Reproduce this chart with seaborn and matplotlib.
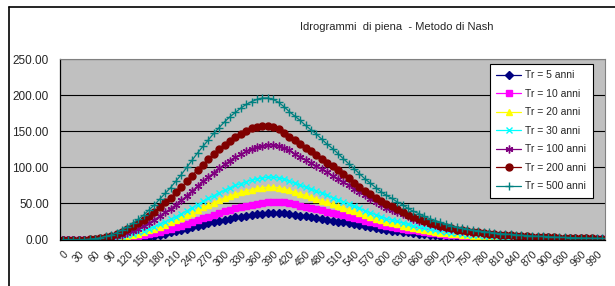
import matplotlib
matplotlib.use("Agg")
import matplotlib.pyplot as plt
from matplotlib.lines import Line2D
import seaborn as sns
import pandas as pd

# tempo (minuti) e portate
tempi = list(range(0, 1001, 10))

tr5 = [0, 0, 0, 0, 0, 0, 0, 0, 0, 0,
       0.2, 0.4, 0.8, 1.3, 2.0, 2.8, 3.8, 5.0, 6.4, 7.9,
       10.5, 12.0, 13.5, 15.1, 16.8, 18.7, 20.6, 22.4, 24.1, 25.8,
       27.5, 29.0, 30.5, 31.8, 32.9, 34.0, 35.0, 35.7, 36.3, 36.7,
       36.7, 36.3, 35.5, 34.4, 33.1, 32.0, 30.9, 29.5, 28.4, 27.3,
       26.0, 24.7, 23.6, 22.3, 20.9, 19.6, 18.3, 17.0, 15.7, 14.6,
       13.5, 12.3, 11.4, 10.7, 9.7, 9.0, 8.0, 7.3, 6.7, 6.0,
       5.4, 4.9, 4.5, 3.9, 3.6, 3.2, 2.9, 2.6, 2.4, 2.2,
       2.1, 1.9, 1.7, 1.6, 1.4, 1.3, 1.2, 1.1, 1.0, 0.9,
       0.9, 0.8, 0.7, 0.7, 0.6, 0.5, 0.5, 0.4, 0.4, 0.4,
       0.3]

tr10 = [0, 0, 0, 0, 0, 0, 0, 0, 0.1, 0.3,
        0.8, 1.5, 2.4, 3.4, 4.6, 6.0, 7.4, 9.0, 10.9, 12.7,
        14.8, 17.0, 19.1, 21.5, 23.9, 26.5, 29.2, 31.8, 34.2, 36.6,
        39.0, 41.1, 43.2, 45.1, 46.6, 48.2, 49.6, 50.6, 51.4, 51.9,
        51.9, 51.4, 50.4, 48.8, 46.9, 45.3, 43.7, 41.9, 40.3, 38.7,
        36.8, 35.0, 33.4, 31.5, 29.7, 27.8, 26.0, 24.1, 22.3, 20.7,
        19.1, 17.5, 16.2, 15.1, 13.8, 12.7, 11.4, 10.3, 9.5, 8.5,
        7.7, 6.9, 6.4, 5.6, 5.0, 4.5, 4.1, 3.7, 3.4, 3.2,
        2.9, 2.7, 2.4, 2.2, 2.0, 1.9, 1.7, 1.6, 1.4, 1.3,
        1.2, 1.1, 1.0, 0.9, 0.8, 0.8, 0.7, 0.6, 0.6, 0.5,
        0.5]

tr20 = [0, 0, 0, 0, 0, 0, 0, 0.2, 0.6, 1.2,
        2.0, 3.2, 4.6, 6.3, 8.3, 10.4, 12.6, 15.2, 17.8, 20.7,
        23.7, 26.6, 30.0, 33.3, 37.0, 40.7, 44.4, 47.7, 51.1, 54.4,
        57.4, 60.3, 62.9, 65.1, 67.3, 69.2, 70.7, 71.8, 72.5, 72.5,
        71.8, 70.3, 68.1, 65.5, 63.3, 61.1, 58.5, 56.2, 54.0, 51.4,
        48.8, 46.6, 44.0, 41.4, 38.9, 36.3, 33.7, 31.1, 28.9, 26.6,
        24.4, 22.6, 21.1, 19.2, 17.8, 15.9, 14.4, 13.3, 11.8, 10.7,
        9.6, 8.9, 7.8, 7.0, 6.3, 5.7, 5.2, 4.8, 4.4, 4.1,
        3.7, 3.3, 3.1, 2.8, 2.6, 2.4, 2.2, 2.0, 1.9, 1.7,
        1.6, 1.4, 1.3, 1.2, 1.1, 1.0, 0.9, 0.8, 0.7, 0.7,
        0.6]

tr30 = [0, 0, 0, 0, 0, 0, 0.2, 0.5, 1.1, 1.8,
        2.9, 4.2, 5.7, 7.7, 9.9, 12.3, 15.0, 18.0, 21.1, 24.6,
        28.2, 31.7, 35.6, 39.6, 44.0, 48.4, 52.8, 56.8, 60.7, 64.7,
        68.2, 71.7, 74.8, 77.4, 80.1, 82.3, 84.0, 85.4, 86.2, 86.2,
        85.4, 83.6, 81.0, 77.9, 75.2, 72.6, 69.5, 66.9, 64.2, 61.2,
        58.1, 55.4, 52.4, 49.3, 46.2, 43.1, 40.0, 37.0, 34.3, 31.7,
        29.0, 26.8, 25.1, 22.9, 21.1, 18.9, 17.2, 15.8, 14.1, 12.8,
        11.4, 10.6, 9.2, 8.4, 7.5, 6.8, 6.2, 5.7, 5.3, 4.8,
        4.4, 4.0, 3.7, 3.3, 3.1, 2.8, 2.6, 2.4, 2.2, 2.0,
        1.8, 1.7, 1.5, 1.4, 1.3, 1.1, 1.1, 1.0, 0.9, 0.8,
        0.7]

tr100 = [0, 0, 0, 0, 0, 0, 0.3, 0.8, 1.7, 2.8,
         4.4, 6.4, 8.7, 11.7, 15.1, 18.8, 22.8, 27.5, 32.2, 37.5,
         42.9, 48.2, 54.3, 60.3, 67.0, 73.7, 80.4, 86.4, 92.5, 98.5,
         103.9, 109.2, 113.9, 117.9, 121.9, 125.3, 128.0, 130.0, 131.3, 131.3,
         130.0, 127.3, 123.3, 118.6, 114.6, 110.6, 105.9, 101.8, 97.8, 93.1,
         88.4, 84.4, 79.7, 75.0, 70.4, 65.7, 61.0, 56.3, 52.3, 48.2,
         44.2, 40.9, 38.2, 34.8, 32.2, 28.8, 26.1, 24.1, 21.4, 19.4,
         17.4, 16.1, 14.1, 12.7, 11.4, 10.4, 9.4, 8.7, 8.0, 7.4,
         6.7, 6.0, 5.6, 5.1, 4.7, 4.3, 4.0, 3.6, 3.4, 3.1,
         2.8, 2.5, 2.3, 2.1, 1.9, 1.7, 1.6, 1.5, 1.3, 1.2,
         1.1]

tr200 = [0, 0, 0, 0, 0, 0.4, 1.0, 2.0, 3.4, 5.2,
         7.6, 10.5, 14.1, 18.1, 22.5, 27.4, 33.0, 38.6, 45.1, 51.5,
         58.0, 65.2, 72.5, 80.5, 88.6, 96.6, 103.8, 111.1, 118.3, 124.8,
         131.2, 136.9, 141.7, 146.5, 150.5, 153.8, 156.2, 157.8, 157.8, 156.2,
         153.0, 148.1, 142.5, 137.7, 132.8, 127.2, 122.4, 117.5, 111.9, 106.3,
         101.4, 95.8, 90.2, 84.5, 78.9, 73.3, 67.6, 62.8, 58.0, 53.1,
         49.1, 45.9, 41.9, 38.6, 34.6, 31.4, 29.0, 25.8, 23.3, 20.9,
         19.3, 16.9, 15.3, 13.7, 12.5, 11.3, 10.5, 9.7, 8.9, 8.1,
         7.2, 6.7, 6.1, 5.6, 5.2, 4.7, 4.3, 4.0, 3.7, 3.4,
         3.1, 2.8, 2.6, 2.3, 2.1, 1.9, 1.8, 1.6, 1.4, 1.3,
         1.2]

tr500 = [0, 0, 0, 0, 0, 0.5, 1.2, 2.5, 4.2, 6.5,
         9.5, 13, 17.5, 22.5, 28, 34, 41, 48, 56, 64,
         72, 81, 90, 100, 110, 120, 129, 138, 147, 155,
         163, 170, 176, 182, 187, 191, 194, 196, 196, 194,
         190, 184, 177, 171, 165, 158, 152, 146, 139, 132,
         126, 119, 112, 105, 98, 91, 84, 78, 72, 66,
         61, 57, 52, 48, 43, 39, 36, 32, 29, 26,
         24, 21, 19, 17, 15.5, 14, 13, 12, 11, 10,
         9, 8.3, 7.6, 7, 6.4, 5.9, 5.4, 5, 4.6, 4.2,
         3.8, 3.5, 3.2, 2.9, 2.6, 2.4, 2.2, 2.0, 1.8, 1.6,
         1.5]

etichette = ["Tr = 5 anni", "Tr = 10 anni", "Tr = 20 anni", "Tr = 30 anni",
             "Tr = 100 anni", "Tr = 200 anni", "Tr = 500 anni"]
serie = [tr5, tr10, tr20, tr30, tr100, tr200, tr500]

colori = ["#000080", "#FF00FF", "#FFFF00", "#00FFFF", "#800080", "#800000", "#008080"]
marcatori = ["D", "s", "^", "x", (6, 2, 0), "o", "+"]
dim_marc = [3.8, 4.8, 5.0, 4.6, 5.6, 5.0, 6.0]

sns.set_style("white")
plt.rcParams['font.family'] = ['Liberation Sans', 'DejaVu Sans']

fig = plt.figure(figsize=(6.15, 2.86), dpi=100)
ax = fig.add_axes([60 / 615, 1 - 239.5 / 286, 545 / 615, 180.5 / 286])
ax.set_facecolor("#C0C0C0")

for nome, valori, col, mk, ms in zip(etichette, serie, colori, marcatori, dim_marc):
    df = pd.DataFrame({"t": tempi, "Q": valori})
    sns.lineplot(data=df, x="t", y="Q", ax=ax, color=col, marker=mk,
                 markersize=ms, markeredgecolor=col, markeredgewidth=1.0,
                 linewidth=0.9, label=nome)

ax.set_xlim(-5, 1005)
ax.set_ylim(0, 250)
ax.set_yticks([0, 50, 100, 150, 200, 250])
ax.set_yticklabels([f"{v:.2f}" for v in [0, 50, 100, 150, 200, 250]], fontsize=8.5)
ax.yaxis.grid(True, color="black", linewidth=0.8)
ax.set_axisbelow(True)

ax.set_xticks(list(range(0, 1000, 30)))
ax.set_xticklabels([str(v) for v in range(0, 1000, 30)], rotation=45,
                   ha="right", rotation_mode="anchor", fontsize=7.5)
ax.set_xticks([v - 5 for v in range(0, 1011, 10)], minor=True)
ax.tick_params(axis="x", which="major", length=0, pad=7)
ax.tick_params(axis="x", which="minor", length=3, width=0.8, color="black", direction="out")
ax.tick_params(axis="y", length=3, width=0.8, color="black", direction="out", pad=5)
ax.set_xlabel("")
ax.set_ylabel("")

for lato in ["left", "bottom"]:
    ax.spines[lato].set_color("black")
    ax.spines[lato].set_linewidth(0.9)
for lato in ["top", "right"]:
    ax.spines[lato].set_color("#808080")
    ax.spines[lato].set_linewidth(0.8)

leg = ax.legend(loc="upper left", bbox_to_anchor=(490 / 615, 1 - 64 / 286),
                bbox_transform=fig.transFigure, fontsize=7.5, frameon=True,
                fancybox=False, edgecolor="black", framealpha=1,
                handlelength=2.4, handletextpad=0.4, labelspacing=0.82,
                borderpad=0.6, borderaxespad=0)
leg.get_frame().set_linewidth(0.8)

fig.text(397 / 615, 1 - 27 / 286, "Idrogrammi  di piena  - Metodo di Nash",
         ha="center", va="center", fontsize=8)

# cornice del grafico (bordo nero in alto e a sinistra)
fig.add_artist(Line2D([9 / 615, 1.0], [1 - 7 / 286, 1 - 7 / 286], color="black", linewidth=1.2))
fig.add_artist(Line2D([9 / 615, 9 / 615], [0.0, 1 - 7 / 286], color="black", linewidth=1.2))

fig.savefig("out.png", dpi=100)
